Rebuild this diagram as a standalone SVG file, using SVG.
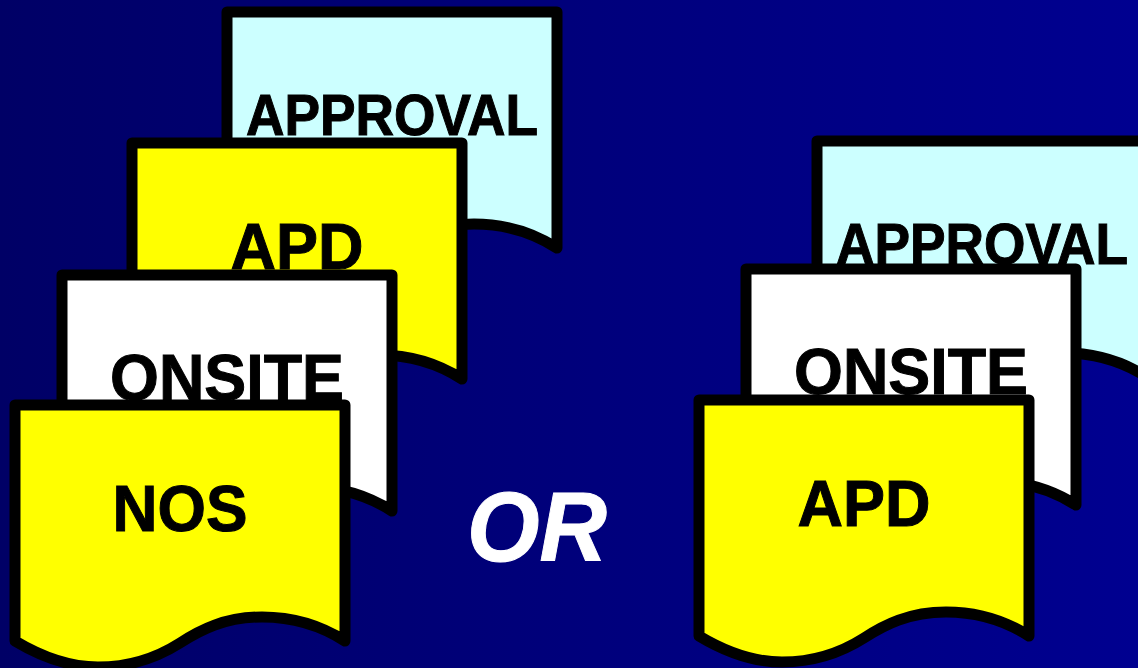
<svg xmlns="http://www.w3.org/2000/svg" xmlns:xlink="http://www.w3.org/1999/xlink" width="1138" height="668" viewBox="0 0 1138 668">
<style>
.doc{stroke:#000;stroke-width:11;stroke-linejoin:round}
.t{font-family:"Liberation Sans",Arial,sans-serif;font-weight:700;font-size:65px;fill:#000;stroke:#000;stroke-width:1;text-anchor:middle}
.a{font-size:57px}
.o{font-size:99px;font-style:italic;fill:#fff;stroke:#fff}
.y{fill:#ff0}.w{fill:#fff}.c{fill:#cff}
</style>
<defs>
<linearGradient id="bg" x1="0" y1="0" x2="1" y2="0"><stop offset="0" stop-color="#000066"/><stop offset="1" stop-color="#000090"/></linearGradient>
<path id="d" d="M15,405H345V641C320,625 292,617 262,617C225,617 200,630 180,643C158,657 130,667 98,667C68,667 40,656 15,641Z"/>
</defs>
<rect width="1138" height="668" fill="url(#bg)"/>
<g id="left-approval"><use xlink:href="#d" href="#d" class="doc c" transform="translate(212,-393)"/><text class="t a" x="392" y="135" textLength="292" lengthAdjust="spacingAndGlyphs">APPROVAL</text></g>
<g id="left-apd"><use xlink:href="#d" href="#d" class="doc y" transform="translate(117,-262)"/><text class="t" x="297" y="269" textLength="133" lengthAdjust="spacingAndGlyphs">APD</text></g>
<g id="left-onsite"><use xlink:href="#d" href="#d" class="doc w" transform="translate(47,-130)"/><text class="t" x="227" y="400" textLength="234" lengthAdjust="spacingAndGlyphs">ONSITE</text></g>
<g id="left-nos"><use xlink:href="#d" href="#d" class="doc y"/><text class="t" x="180" y="531" textLength="135" lengthAdjust="spacingAndGlyphs">NOS</text></g>
<g id="or"><text class="t o" x="537" y="561" textLength="140" lengthAdjust="spacingAndGlyphs">OR</text></g>
<g id="right-approval"><use xlink:href="#d" href="#d" class="doc c" transform="translate(802,-264)"/><text class="t a" x="982" y="264" textLength="292" lengthAdjust="spacingAndGlyphs">APPROVAL</text></g>
<g id="right-onsite"><use xlink:href="#d" href="#d" class="doc w" transform="translate(731,-136)"/><text class="t" x="911" y="394" textLength="234" lengthAdjust="spacingAndGlyphs">ONSITE</text></g>
<g id="right-apd"><use xlink:href="#d" href="#d" class="doc y" transform="translate(684,-5)"/><text class="t" x="864" y="526" textLength="133" lengthAdjust="spacingAndGlyphs">APD</text></g>
</svg>
